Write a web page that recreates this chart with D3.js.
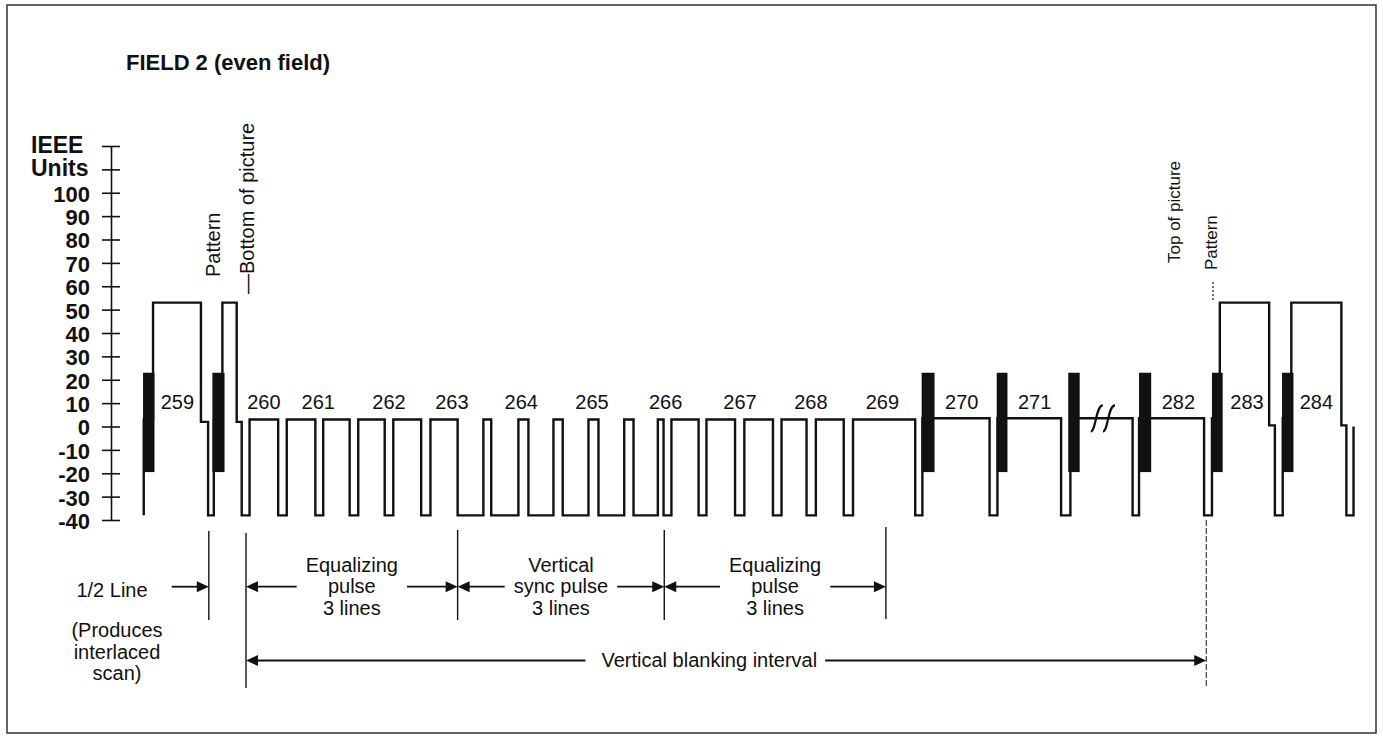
<!doctype html>
<html>
<head>
<meta charset="utf-8" />
<title>FIELD 2 (even field)</title>
<script src="https://cdn.jsdelivr.net/npm/d3@7"></script>
<style>
html,body{margin:0;padding:0;background:#fff;}
svg{display:block;}
text{font-family:"Liberation Sans",Arial,Helvetica,sans-serif;fill:#111;}
.bold{font-weight:bold;}
</style>
</head>
<body>
<svg id="chart" width="1383" height="736"></svg>
<script>
// IEEE scale ticks (top two carry the "IEEE Units" title instead of a number)
var levelTicks = [-40,-30,-20,-10,0,10,20,30,40,50,60,70,80,90,100,110,120];
var levelLabels = ["-40","-30","-20","-10","0","10","20","30","40","50","60","70","80","90","100","",""];
var unitTitle = ["IEEE","Units"];

// waveform: time in lines (H) from the first equalizing pulse, level held from that time on
var waveT = [-1.37,-1.37,-1.24,-0.57,-0.47,-0.39,-0.27,-0.07,
  0,0.11,0.51,0.63,1.03,1.14,1.51,1.63,2.00,2.12,2.51,2.64,
  3.02,3.38,3.49,3.87,4.01,4.36,4.49,4.85,4.99,5.35,5.48,5.82,
  5.90,6.01,6.39,6.50,6.90,7.03,7.43,7.55,7.90,8.03,8.42,8.55,
  9.42,9.52,10.46,10.57,11.46,11.59,12.46,12.55,
  13.46,13.57,13.68,14.37,14.45,14.56,14.68,15.38,15.45,15.55];
var waveLevel = [-38,3,53,2,-38,3,53,2,
  -38,3,-38,3,-38,3,-38,3,-38,3,-38,3,
  -38,3,-38,3,-38,3,-38,3,-38,3,-38,3,
  -38,3,-38,3,-38,3,-38,3,-38,3,-38,3,
  -38,3.5,-38,3.5,-38,3.5,-38,3.5,
  -38,3.5,53,0.5,-38,3.5,53,0.5,-38,0];

// colour bursts
var burstStart = [-1.38,-0.41,9.51,10.56,11.56,12.55,13.57,14.55];
var burstEnd   = [-1.22,-0.24,9.69,10.71,11.72,12.72,13.72,14.71];
var burstTop = 23, burstBottom = -19.5;

// line numbers
var lineNames = ["259","260","261","262","263","264","265","266","267","268","269","270","271","282","283","284"];
var lineNameT = [-0.90,0.31,1.07,2.06,2.94,3.91,4.90,5.93,6.97,7.96,8.96,10.07,11.09,13.10,14.06,15.03];

// lines 272-281 left out
var breakT = [11.96,12.13];

// intervals under the waveform
var sectionText = [["Equalizing","pulse","3 lines"],["Vertical","sync pulse","3 lines"],["Equalizing","pulse","3 lines"]];
var sectionStart = [0.06,3.02,5.91];
var sectionEnd = [3.02,5.91,9.01];
var halfLineT = -0.46;
var halfLineText = "1/2 Line";
var interlaceText = ["(Produces","interlaced","scan)"];
var blankingStart = 0.06, blankingEnd = 13.49, blankingTextT = 6.54;
var blankingText = "Vertical blanking interval";

var svg = d3.select("#chart");
var x = d3.scaleLinear().domain([-1.4,15.6]).range([141.6,1357.1]);
var y = d3.scaleLinear().domain([-40,120]).range([520,146]);
var ink = "#111";

// frame
svg.append("rect").attr("x",7).attr("y",5).attr("width",1369).attr("height",728)
  .attr("fill","none").attr("stroke","#333").attr("stroke-width",1.5);

svg.append("text").attr("class","bold").attr("x",126).attr("y",70)
  .attr("font-size",22).attr("textLength",204).text("FIELD 2 (even field)");

// axis
var axis = d3.axisLeft(y).tickValues(levelTicks).tickSize(9).tickSizeOuter(0)
  .tickFormat(function(d,i){return levelLabels[i];});
var gA = svg.append("g").attr("transform","translate(111,0)").call(axis);
gA.select(".domain").attr("stroke",ink).attr("stroke-width",1.6);
gA.selectAll(".tick line").attr("x1",9).attr("x2",-9).attr("stroke",ink).attr("stroke-width",1.6);
gA.selectAll(".tick text").attr("class","bold").attr("font-size",22).attr("x",-21).attr("dy","0.38em");
unitTitle.forEach(function(s,i){
  svg.append("text").attr("class","bold").attr("x",31).attr("y",y(levelTicks[16-i])+7)
    .attr("font-size",23).text(s);
});

// waveform
var line = d3.line().x(function(d){return x(d[0]);}).y(function(d){return y(d[1]);})
  .curve(d3.curveStepAfter);
var wave = waveT.map(function(t,i){return [t,waveLevel[i]];});
svg.append("path").attr("d",line(wave)).attr("fill","none").attr("stroke",ink)
  .attr("stroke-width",2.4);

svg.selectAll("rect.burst").data(burstStart).enter().append("rect").attr("class","burst")
  .attr("x",function(d){return x(d);})
  .attr("width",function(d,i){return x(burstEnd[i])-x(d);})
  .attr("y",y(burstTop)).attr("height",y(burstBottom)-y(burstTop))
  .attr("fill",ink);

breakT.forEach(function(t){
  var cx = x(t), cy = y(3.5);
  svg.append("path").attr("d","M"+(cx-6)+","+(cy+13)+" C"+(cx-1)+","+(cy+13)+" "+(cx-1)+","+(cy-13)+" "+(cx+6)+","+(cy-13))
    .attr("fill","none").attr("stroke",ink).attr("stroke-width",2.2);
});

svg.selectAll("text.num").data(lineNames).enter().append("text").attr("class","num")
  .attr("x",function(d,i){return x(lineNameT[i]);}).attr("y",y(3)-10)
  .attr("text-anchor","middle").attr("font-size",20).text(function(d){return d;});

// rotated notes
function vtext(s,px,py,size){
  svg.append("text").attr("transform","translate("+px+","+py+") rotate(-90)")
    .attr("font-size",size).text(s);
}
vtext("Pattern",x(-0.27)-2,277,20);
vtext("\u2014Bottom of picture",x(-0.07)+17,294,20);
vtext("Top of picture",1180,263,17);
vtext("Pattern",1217,270,17);
svg.append("line").attr("x1",1213).attr("x2",1213).attr("y1",282).attr("y2",300)
  .attr("stroke",ink).attr("stroke-width",1.2).attr("stroke-dasharray","2,2");

// interval markers
function vline(t,y1,y2,dash){
  svg.append("line").attr("x1",x(t)).attr("x2",x(t)).attr("y1",y1).attr("y2",y2)
    .attr("stroke",ink).attr("stroke-width",dash?1:1.4).attr("stroke-dasharray",dash?"6,2":null);
}
function arrow(x1,x2,yy){
  var dir = x2>x1?1:-1;
  svg.append("line").attr("x1",x1).attr("x2",x2-dir*8).attr("y1",yy).attr("y2",yy)
    .attr("stroke",ink).attr("stroke-width",1.8);
  svg.append("path").attr("d","M"+x2+","+yy+"L"+(x2-dir*12)+","+(yy-5.5)+"L"+(x2-dir*12)+","+(yy+5.5)+"Z")
    .attr("fill",ink);
}
var rowY = 586.7;
vline(halfLineT,531,620);
vline(blankingStart,533,688);
vline(sectionStart[1],530,620);
vline(sectionStart[2],530,620);
vline(sectionEnd[2],527,619);
vline(blankingEnd,520,688,true);

svg.append("text").attr("x",112).attr("y",597).attr("text-anchor","middle").attr("font-size",20).text(halfLineText);
arrow(171.7,x(halfLineT),rowY);
interlaceText.forEach(function(s,i){
  svg.append("text").attr("x",117).attr("y",637+i*21.7).attr("text-anchor","middle").attr("font-size",20).text(s);
});

sectionText.forEach(function(lines,k){
  var a = x(sectionStart[k]), b = x(sectionEnd[k]), m = (a+b)/2;
  var g = svg.append("g");
  lines.forEach(function(s,i){
    g.append("text").attr("x",m).attr("y",571.5+i*21.5).attr("text-anchor","middle")
      .attr("font-size",20).text(s);
  });
  var w = g.node().getBBox().width/2 + 9;
  arrow(m-w,a,rowY);
  arrow(m+w,b,rowY);
});

var bt = svg.append("text").attr("x",x(blankingTextT)).attr("y",667).attr("text-anchor","middle")
  .attr("font-size",20).text(blankingText);
var bb = bt.node().getBBox();
arrow(bb.x-16,x(blankingStart),660.5);
arrow(bb.x+bb.width+8,x(blankingEnd),660.5);
</script>
</body>
</html>
